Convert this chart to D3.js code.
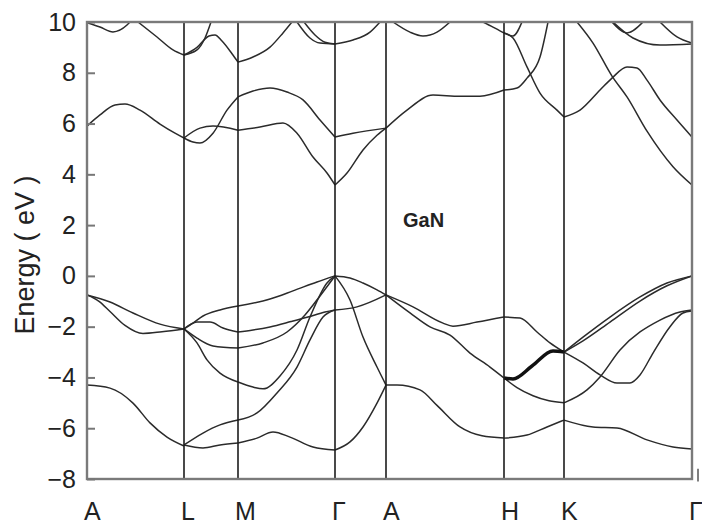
<!DOCTYPE html>
<html><head><meta charset="utf-8">
<script src="https://cdn.jsdelivr.net/npm/d3@7"></script>
<style>body{margin:0;background:#fff}svg{display:block}</style>
</head><body><svg id="chart" width="702" height="524"></svg>
<script>
// high-symmetry points along the k-path (path length units)
const kPoints = [0, 0.97, 1.51, 2.48, 2.99, 4.17, 4.77, 6.05];
const kLabels = ["A", "L", "M", "Γ", "A", "H", "K", "Γ"];
const energyTicks = [-8, -6, -4, -2, 0, 2, 4, 6, 8, 10];
const yTitle = "Energy ( eV )";
const materialLabel = "GaN";

// valence bands: [k, E(eV)]
const v1 = [[0,-0.75],[0.23,-1.03],[0.46,-1.46],[0.73,-1.90],[0.97,-2.09]];
const v2 = [[0,-0.75],[0.12,-1.0],[0.23,-1.4],[0.38,-1.95],[0.56,-2.27],[0.75,-2.2],[0.97,-2.09]];
const v3 = [[0,-4.30],[0.23,-4.42],[0.46,-5.01],[0.63,-5.79],[0.80,-6.35],[0.97,-6.70]];
const v4 = [[0.97,-2.09],[1.06,-1.86],[1.16,-1.58],[1.33,-1.34],[1.51,-1.19],[1.83,-0.91],[2.06,-0.59],[2.30,-0.24],[2.48,0],
            [2.63,-0.08],[2.76,-0.28],[2.90,-0.55],[2.99,-0.75],[3.26,-1.22],[3.56,-1.86],[3.66,-1.98],[3.90,-1.82],[4.17,-1.62],
            [4.33,-1.66],[4.50,-2.21],[4.63,-2.64],[4.77,-3.0],[4.96,-2.41],[5.23,-1.62],[5.53,-0.83],[5.80,-0.28],[6.05,0]];
const v5 = [[0.97,-2.09],[1.10,-1.82],[1.23,-1.82],[1.36,-2.05],[1.51,-2.21],[1.66,-2.13],[1.83,-2.01],[2.04,-1.80],[2.21,-1.62],
            [2.38,-1.42],[2.48,-1.34],[2.70,-1.22],[2.99,-0.75],[3.23,-1.46],[3.43,-2.01],[3.63,-2.33],[3.83,-3.04],[4.03,-3.59],[4.17,-4.02],
            [4.30,-4.40],[4.46,-4.72],[4.62,-4.92],[4.77,-5.0],[5.0,-4.49],[5.13,-3.98],[5.33,-2.92],[5.73,-1.74],[5.93,-1.42],[6.05,-1.34]];
const v6 = [[0.97,-2.09],[1.10,-2.45],[1.26,-2.76],[1.51,-2.84],[1.76,-2.64],[2.00,-2.21],[2.18,-1.54],[2.33,-0.79],[2.48,0]];
const v7 = [[0.97,-2.09],[1.10,-2.64],[1.20,-3.31],[1.33,-3.83],[1.51,-4.18],[1.66,-4.38],[1.76,-4.45],[1.93,-3.94],[2.10,-2.92],
            [2.23,-1.62],[2.40,-0.28],[2.48,0],[2.63,-0.95],[2.76,-2.41],[2.90,-3.59],[2.99,-4.30]];
const v8 = [[0.97,-6.66],[1.16,-6.19],[1.33,-5.87],[1.51,-5.68],[1.70,-5.40],[1.90,-4.61],[2.10,-3.59],[2.23,-2.52],[2.36,-1.62],[2.48,-1.34]];
const v9 = [[0.97,-6.66],[1.16,-6.78],[1.33,-6.66],[1.51,-6.58],[1.70,-6.39],[1.86,-6.15],[2.03,-6.35],[2.26,-6.74],[2.48,-6.86],
            [2.63,-6.54],[2.76,-5.95],[2.90,-5.01],[2.99,-4.30],[3.10,-4.30],[3.33,-4.49],[3.50,-5.1],[3.73,-5.95],[3.95,-6.3],[4.17,-6.39],
            [4.40,-6.27],[4.60,-5.95],[4.77,-5.68],[5.06,-5.95],[5.30,-5.99],[5.60,-6.46],[5.86,-6.74],[6.05,-6.82]];
const v10 = [[4.17,-4.02],[4.26,-4.06],[4.45,-3.55],[4.66,-2.96],[4.77,-3.0],[4.96,-2.56],[5.23,-1.82],[5.53,-0.99],[5.80,-0.39],[6.05,0]];
const v11 = [[4.77,-3.0],[4.96,-3.43],[5.13,-3.90],[5.30,-4.22],[5.43,-4.22],[5.53,-3.90],[5.66,-3.04],[5.83,-2.0],[5.96,-1.46],[6.05,-1.38]];
const heavyHK = [[4.17,-4.02],[4.26,-4.06],[4.45,-3.55],[4.66,-2.96],[4.77,-3.0]];

// conduction bands
const c1 = [[0,5.90],[0.13,6.34],[0.28,6.73],[0.38,6.77],[0.53,6.53],[0.73,5.98],[0.88,5.62],[0.97,5.43]];
const c2 = [[0,9.97],[0.13,9.80],[0.26,9.61],[0.40,9.88],[0.43,10.0]];
const c3 = [[0.51,10.0],[0.70,9.41],[0.86,8.90],[0.97,8.70]];
const c4 = [[0.97,8.70],[1.10,8.90],[1.18,9.37],[1.24,10.0]];
const c5 = [[0.97,8.70],[1.10,9.0],[1.22,9.45],[1.28,9.49],[1.35,9.25],[1.45,8.75],[1.51,8.42],[1.66,8.62],[1.83,9.01],[1.96,9.57],[2.05,10.0]];
const c6 = [[2.10,10.0],[2.23,9.37],[2.33,9.17],[2.48,9.13],[2.66,9.29],[2.83,9.6],[2.93,10.0]];
const c7 = [[2.17,10.0],[2.28,9.49],[2.38,9.2],[2.48,9.13]];
const c8 = [[3.06,10.0],[3.23,9.6],[3.36,9.45],[3.50,9.6],[3.63,10.0]];
const c9 = [[0.97,5.43],[1.06,5.27],[1.13,5.23],[1.26,5.62],[1.40,6.53],[1.51,7.05],[1.66,7.28],[1.83,7.40],[2.00,7.24],[2.16,6.93],
            [2.33,6.14],[2.48,5.47],[2.66,5.62],[2.99,5.82],[3.20,6.53],[3.46,7.12],[3.73,7.08],[3.93,7.08],[4.17,7.32],[4.30,7.40],
            [4.40,7.79],[4.53,8.62],[4.61,10.0]];
const c10 = [[0.97,5.43],[1.13,5.82],[1.26,5.90],[1.51,5.74],[1.73,5.86],[1.96,6.02],[2.10,5.62],[2.26,4.68],[2.40,4.05],[2.48,3.58],
             [2.60,4.05],[2.76,4.96],[2.90,5.54],[2.99,5.82]];
const c11 = [[3.96,10.0],[4.06,9.80],[4.17,9.57],[4.26,9.37],[4.40,8.23],[4.53,7.20],[4.70,6.53],[4.77,6.26],[4.93,6.53],[5.13,7.32],
             [5.25,7.79],[5.40,8.23],[5.50,8.19],[5.60,7.71],[5.73,6.93],[5.90,6.14],[6.05,5.47]];
const c12 = [[4.17,9.57],[4.26,9.45],[4.35,10.0]];
const c13 = [[4.90,10.0],[5.06,9.17],[5.25,7.87],[5.40,7.05],[5.60,5.70],[5.86,4.30],[6.05,3.58]];
const c14 = [[5.25,10.0],[5.40,9.57],[5.56,10.0]];
const c15 = [[5.26,10.0],[5.46,9.37],[5.73,9.09],[6.05,9.13]];
const c16 = [[5.73,10.0],[5.90,9.41],[6.05,9.17]];

const bands = [v1,v2,v3,v4,v5,v6,v7,v8,v9,v10,v11,c1,c2,c3,c4,c5,c6,c7,c8,c9,c10,c11,c12,c13,c14,c15,c16];

const W = 702, H = 524;
const m = {left: 87, right: 10, top: 22, bottom: 45};
const svg = d3.select("#chart");
svg.append("rect").attr("width", W).attr("height", H).attr("fill", "#fff");

const x = d3.scaleLinear().domain([kPoints[0], kPoints[kPoints.length - 1]]).range([m.left, W - m.right]);
const y = d3.scaleLinear().domain([-8, 10]).range([H - m.bottom, m.top]);

svg.append("defs").append("clipPath").attr("id", "clip")
  .append("rect").attr("x", x.range()[0]).attr("y", y.range()[1])
  .attr("width", x.range()[1] - x.range()[0]).attr("height", y.range()[0] - y.range()[1]);

// split each band at high-symmetry points
function isNode(k) { return kPoints.some(p => Math.abs(p - k) < 1e-6); }
function pieces(band) {
  const out = []; let cur = [];
  band.forEach((p, i) => {
    cur.push(p);
    if (i > 0 && i < band.length - 1 && isNode(p[0])) { out.push(cur); cur = [p]; }
  });
  out.push(cur);
  return out.filter(s => s.length > 1);
}
const line = d3.line().x(d => x(d[0])).y(d => y(d[1])).curve(d3.curveMonotoneX);

const g = svg.append("g").attr("clip-path", "url(#clip)");
bands.forEach(b => pieces(b).forEach(s => {
  g.append("path").attr("d", line(s)).attr("fill", "none")
    .attr("stroke", "#2b2b2b").attr("stroke-width", 1.5);
}));
g.append("path").attr("d", line(heavyHK)).attr("fill", "none")
  .attr("stroke", "#111").attr("stroke-width", 3.4);

// high-symmetry vertical lines
svg.append("g").selectAll("line").data(kPoints.slice(1, -1)).join("line")
  .attr("x1", d => x(d)).attr("x2", d => x(d))
  .attr("y1", y(10)).attr("y2", y(-8))
  .attr("stroke", "#1c1c1c").attr("stroke-width", 1.6);

// frame
svg.append("rect").attr("x", x.range()[0]).attr("y", y.range()[1])
  .attr("width", x.range()[1] - x.range()[0]).attr("height", y.range()[0] - y.range()[1])
  .attr("fill", "none").attr("stroke", "#7a7a7a").attr("stroke-width", 2.4);

// small stray tick mark beyond the right edge, as in the original
svg.append("line").attr("x1", x.range()[1] + 6).attr("x2", x.range()[1] + 6)
  .attr("y1", y(-7.6)).attr("y2", y(-8.1)).attr("stroke", "#555").attr("stroke-width", 1.5);

// y axis
const yAxis = d3.axisLeft(y).tickValues(energyTicks).tickFormat(d3.format("d"))
  .tickSizeInner(-8).tickSizeOuter(0).tickPadding(11);
const ya = svg.append("g").attr("transform", `translate(${x.range()[0]},0)`).call(yAxis);
ya.select(".domain").remove();
ya.selectAll(".tick line").attr("stroke", "#777").attr("stroke-width", 2);
ya.selectAll(".tick text").attr("fill", "#222")
  .style("font-family", "'Liberation Sans', Arial, sans-serif").style("font-size", "25px");

// x labels
svg.append("g").selectAll("text").data(kPoints).join("text")
  .attr("x", d => x(d) - 3).attr("y", 520)
  .attr("text-anchor", "start").attr("fill", "#222")
  .style("font-family", "'Liberation Sans', Arial, sans-serif").style("font-size", "25px")
  .text((d, i) => kLabels[i]);

// y title
svg.append("text").attr("transform", "translate(34,255) rotate(-90)")
  .attr("text-anchor", "middle").attr("fill", "#222")
  .style("font-family", "'Liberation Sans', Arial, sans-serif").style("font-size", "27px")
  .text(yTitle);

// material label
svg.append("text").attr("x", 403).attr("y", 227).attr("fill", "#222")
  .style("font-family", "'Liberation Sans', Arial, sans-serif").style("font-size", "20px").style("font-weight", "bold")
  .text(materialLabel);
</script></body></html>
